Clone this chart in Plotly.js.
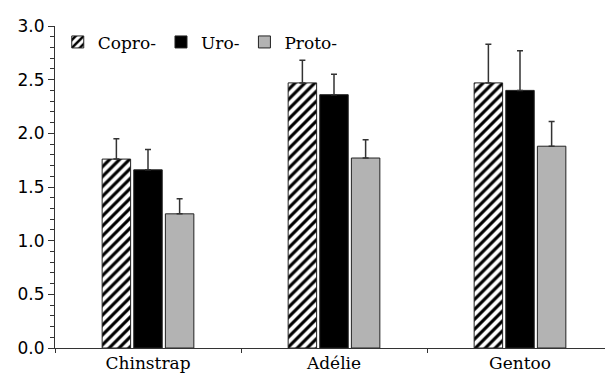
<!DOCTYPE html>
<html>
<head>
<meta charset="utf-8">
<script src="https://cdn.plot.ly/plotly-3.0.1.min.js"></script>
<style>html,body{margin:0;padding:0;background:#fff;}#chart{width:605px;height:376px;}</style>
</head>
<body>
<div id="chart"></div>
<script>
const categories = ["Chinstrap", "Adélie", "Gentoo"];
const seriesNames = ["Copro-", "Uro-", "Proto-"];
const coproValues = [1.76, 2.47, 2.47];
const coproErrors = [0.19, 0.21, 0.36];
const uroValues = [1.66, 2.36, 2.40];
const uroErrors = [0.19, 0.19, 0.37];
const protoValues = [1.25, 1.77, 1.88];
const protoErrors = [0.14, 0.17, 0.23];
const noLowerError = [0, 0, 0];

const outline = {color: '#222', width: 1};
function errs(arr) {
  return {type: 'data', array: arr, arrayminus: noLowerError, symmetric: false,
          color: '#333', thickness: 1.5, width: 3};
}
const traces = [
  {type: 'bar', name: seriesNames[0], x: categories, y: coproValues, error_y: errs(coproErrors),
   marker: {color: '#ffffff', line: outline,
            pattern: {shape: '/', fgcolor: '#000', bgcolor: '#fff', size: 7, solidity: 0.45}}},
  {type: 'bar', name: seriesNames[1], x: categories, y: uroValues, error_y: errs(uroErrors),
   marker: {color: '#000000', line: outline}},
  {type: 'bar', name: seriesNames[2], x: categories, y: protoValues, error_y: errs(protoErrors),
   marker: {color: '#b3b3b3', line: outline}}
];
const layout = {
  width: 605, height: 376,
  margin: {l: 55, r: 0, t: 26, b: 28, pad: 0},
  paper_bgcolor: '#fff', plot_bgcolor: '#fff',
  barmode: 'group', bargap: 0.49, bargroupgap: 0.1,
  showlegend: true,
  legend: {orientation: 'h', x: 0.005, y: 1.005, xanchor: 'left', yanchor: 'top',
           font: {family: 'DejaVu Serif', size: 17, color: '#000'},
           bgcolor: 'rgba(0,0,0,0)', itemclick: false},
  xaxis: {type: 'category', range: [-0.5, 2.457], showline: true, linecolor: '#333', linewidth: 1,
          ticks: 'outside', tickson: 'boundaries', ticklen: 4, tickcolor: '#333',
          showgrid: false, zeroline: false, fixedrange: true,
          tickfont: {family: 'DejaVu Serif', size: 17, color: '#000'}},
  yaxis: {range: [0, 3], dtick: 0.5, tick0: 0, tickformat: '.1f', showline: true, linecolor: '#333', linewidth: 1,
          ticks: 'outside', ticklen: 6, tickcolor: '#333', showgrid: false, zeroline: false,
          minor: {dtick: 0.1, ticks: 'outside', ticklen: 4, tickcolor: '#333', showgrid: false},
          tickfont: {family: 'DejaVu Sans', size: 17, color: '#000'}}
};
Plotly.newPlot('chart', traces, layout, {staticPlot: true, displayModeBar: false});
</script>
</body>
</html>
